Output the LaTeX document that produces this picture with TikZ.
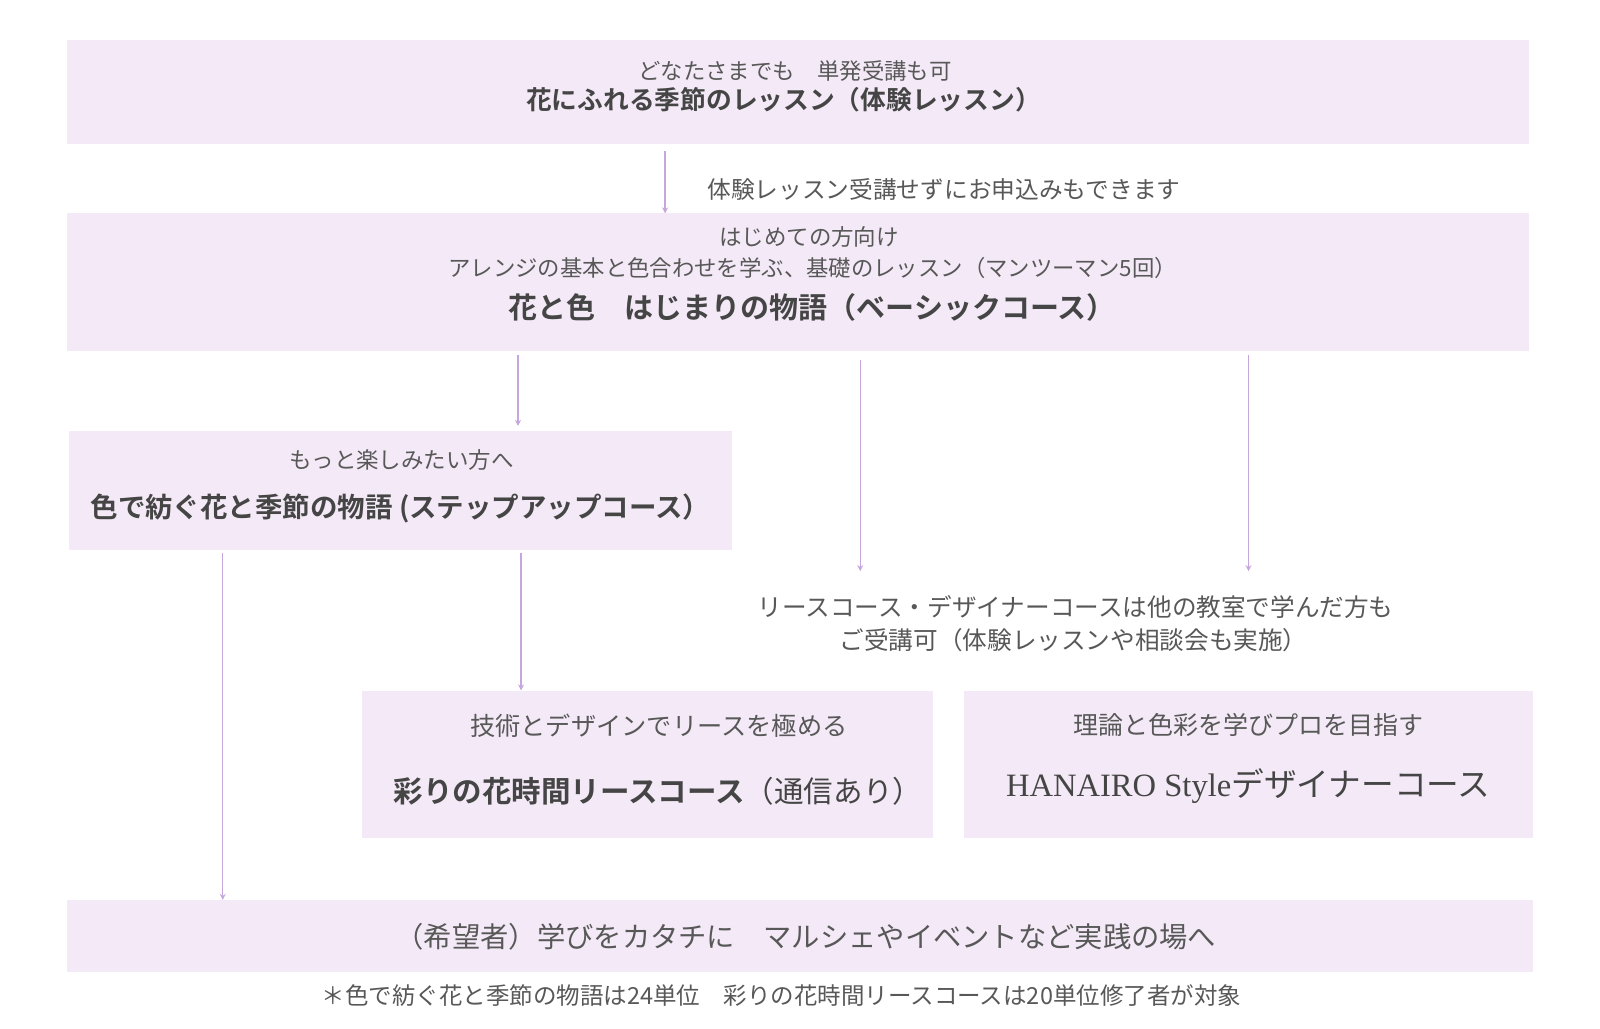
\documentclass[tikz,border=0pt]{standalone}
\usepackage{fontspec}
\usetikzlibrary{arrows.meta}
\newfontfamily\jp{Noto Sans CJK JP}
\newfontfamily\jpb{Noto Sans CJK JP Bold}
\newfontfamily\lserif{Liberation Serif}
\definecolor{boxfill}{HTML}{F4EAF7}
\definecolor{arrowc}{HTML}{C7A6DD}
\definecolor{txt}{HTML}{585858}
\definecolor{ttl}{HTML}{454545}
\tikzset{
  box/.style={fill=boxfill, draw=none, inner sep=0pt},
  lbl/.style={text=txt, inner sep=0pt, anchor=center},
  ttlb/.style={text=ttl, inner sep=0pt, anchor=center},
  arr/.style={draw=arrowc, line width=1.5pt, -{Stealth[length=6pt,width=6pt]}},
}
\newcommand{\fs}[1]{\fontsize{#1}{#1}\selectfont}
\begin{document}
\begin{tikzpicture}[x=1pt,y=-1pt,scale=1.0215,transform shape]
\useasboundingbox (0,0) rectangle (1566.3,1007.3);
\fill[white] (0,0) rectangle (1566.3,1007.3);
% boxes
\node[box, minimum width=1431, minimum height=102] (b1) at (781.5,90) {};
\node[box, minimum width=1431, minimum height=135] (b2) at (781.5,276.5) {};
\node[box, minimum width=649, minimum height=116] (b3) at (392.5,480) {};
\node[box, minimum width=559, minimum height=144] (b4) at (633.5,748) {};
\node[box, minimum width=557, minimum height=144] (b5) at (1222.5,748) {};
\node[box, minimum width=1435, minimum height=71] (b6) at (783.5,916.5) {};
% texts
\node[lbl, font=\jp\fs{21.9}] (t1a) at (778.5,70) {どなたさまでも　単発受講も可};
\node[ttlb, font=\jpb\fs{25.2}] (t1b) at (767,98) {花にふれる季節のレッスン（体験レッスン）};
\node[lbl, font=\jp\fs{23.2}] (t12) at (924,185) {体験レッスン受講せずにお申込みもできます};
\node[lbl, font=\jp\fs{22}] (t2a) at (792,232) {はじめての方向け};
\node[lbl, font=\jp\fs{21.9}] (t2b) at (795.5,262) {アレンジの基本と色合わせを学ぶ、基礎のレッスン（マンツーマン5回）};
\node[ttlb, font=\jpb\fs{28.4}] (t2c) at (795,301) {花と色　はじまりの物語（ベーシックコース）};
\node[lbl, font=\jp\fs{22}] (t3a) at (393,450) {もっと楽しみたい方へ};
\node[ttlb, font=\jpb\fs{26.9}] (t3b) at (392,498) {色で紡ぐ花と季節の物語 (ステップアップコース）};
\node[lbl, font=\jp\fs{24.1}] (n1) at (1053,594) {リースコース・デザイナーコースは他の教室で学んだ方も};
\node[lbl, font=\jp\fs{24.1}] (n2) at (1051,627) {ご受講可（体験レッスンや相談会も実施）};
\node[lbl, font=\jp\fs{24.7}] (t4a) at (645,710) {技術とデザインでリースを極める};
\node[ttlb, font=\jp\fs{28.9}] (t4b) at (644,775) {{\jpb 彩りの花時間リースコース}（通信あり）};
\node[lbl, font=\jp\fs{24.5}] (t5a) at (1222,710) {理論と色彩を学びプロを目指す};
\node[ttlb, font=\jp\fs{32}] (t5b) at (1222,770) {{\lserif\fs{31.9}HANAIRO Style}デザイナーコース};
\node[lbl, font=\jp\fs{27.7}] (t6) at (789,917) {（希望者）学びをカタチに　マルシェやイベントなど実践の場へ};
\node[lbl, font=\jp\fs{23}] (foot) at (765,975) {＊色で紡ぐ花と季節の物語は24単位　彩りの花時間リースコースは20単位修了者が対象};
% arrow columns
\coordinate (xa) at (651,0);
\coordinate (xb) at (507,0);
\coordinate (xc) at (842,0);
\coordinate (xd) at (1222,0);
\coordinate (xe) at (218,0);
\coordinate (xf) at (510,0);
\coordinate (ne) at (0,559);
% connectors
\draw[arr] ([yshift=-7pt]b1.south -| xa) -- (b2.north -| xa);
\draw[arr] ([yshift=-3pt]b2.south -| xb) -- ([yshift=5pt]b3.north -| xb);
\draw[arr] ([yshift=-8pt]b2.south -| xc) -- (ne -| xc);
\draw[arr] ([yshift=-3pt]b2.south -| xd) -- (ne -| xd);
\draw[arr] ([yshift=-3pt]b3.south -| xe) -- (b6.north -| xe);
\draw[arr] ([yshift=-3pt]b3.south -| xf) -- (b4.north -| xf);
\end{tikzpicture}
\end{document}
